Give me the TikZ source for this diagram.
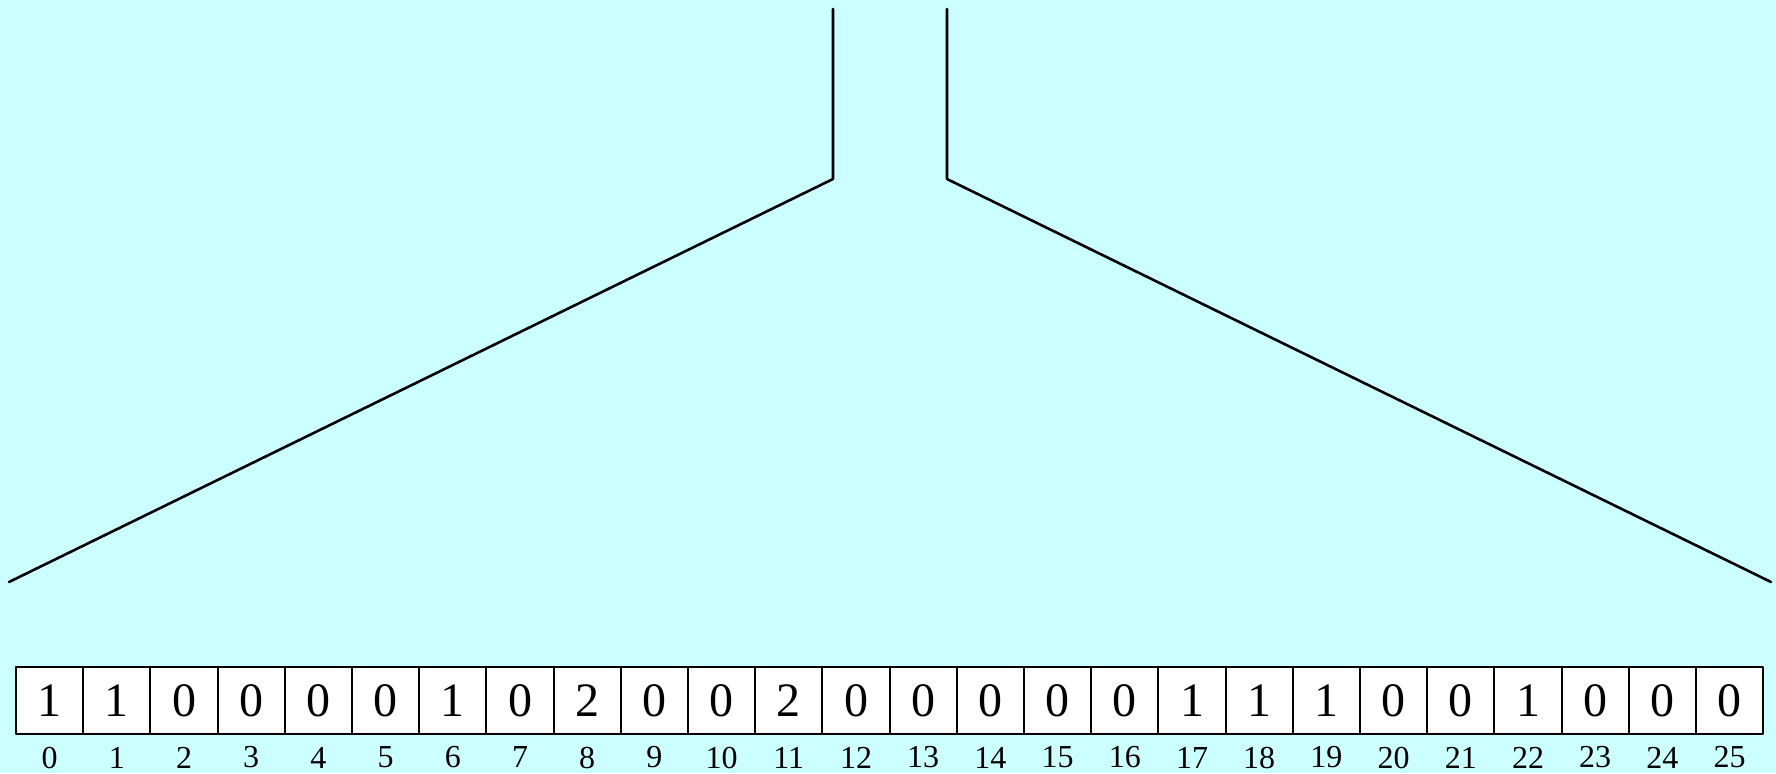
\documentclass[tikz,border=0pt]{standalone}
\usepackage{fontspec}
\setmainfont{Liberation Serif}
\definecolor{bgcyan}{HTML}{CCFFFF}
\begin{document}
\begin{tikzpicture}[x=0.5pt, y=-0.5pt, line join=round, line cap=round,
cell/.style={draw, fill=white, line width=1pt, minimum size=33.6pt, inner sep=0pt, font=\fontsize{24}{24}\selectfont},
idx/.style={inner sep=0pt, font=\fontsize{16}{16}\selectfont},
wall/.style={line width=1.3pt}]
\useasboundingbox[fill=bgcyan] (0,0) rectangle (1776,773);
%Phễu
\path (833,9) coordinate(L1)
(833,179) coordinate(L2)
(9,582) coordinate(L3)
(947,9) coordinate(R1)
(947,179) coordinate(R2)
(1771,582) coordinate(R3)
;
\draw[wall] (L1)--(L2)--(L3);
\draw[wall] (R1)--(R2)--(R3);
%Mảng đếm
\foreach \v [count=\i from 0] in {1,1,0,0,0,0,1,0,2,0,0,2,0,0,0,0,0,1,1,1,0,0,1,0,0,0}
{
\node[cell] (c\i) at ({16+67.2*(\i+0.5)},700.5) {\v};
\node[idx] (n\i) at ({16+67.2*(\i+0.5)},757.5) {\i};
}
\end{tikzpicture}
\end{document}
